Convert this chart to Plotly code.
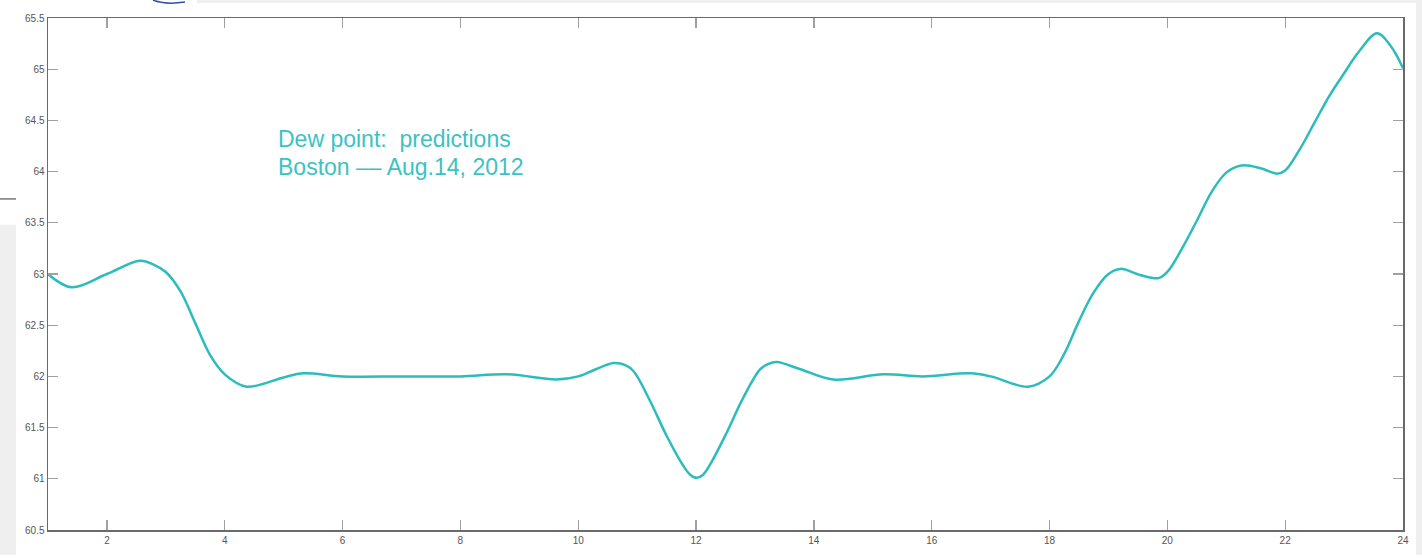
import plotly.graph_objects as go

# Values (hour of day, dew point °F)
hours = [1, 1.4, 2, 2.56, 2.8, 3, 3.25, 3.5, 3.75, 4, 4.37, 5, 5.33, 6, 7, 8, 8.8,
         9.63, 10, 10.3, 10.6, 10.8, 10.94, 11.22, 11.5, 11.78, 11.9, 12.01, 12.12,
         12.24, 12.52, 12.8, 13.09, 13.22, 13.37, 13.77, 14.33, 15.18, 15.85, 16.65,
         17, 17.64, 18, 18.25, 18.5, 18.75, 19, 19.2, 19.54, 19.85, 20, 20.25,
         20.5, 20.75, 21, 21.26, 21.6, 21.86, 22, 22.25, 22.5, 22.75, 23, 23.25,
         23.56, 23.8, 24]
dew_point = [63.00, 62.87, 63.00, 63.13, 63.09, 63.02, 62.83, 62.52, 62.21, 62.02, 61.90,
             61.99, 62.03, 62.00, 62.00, 62.00, 62.02,
             61.97, 62.00, 62.07, 62.13, 62.11, 62.05, 61.76, 61.42, 61.13, 61.04, 61.01, 61.04,
             61.14, 61.45, 61.79, 62.07, 62.12, 62.14, 62.07, 61.97, 62.02, 62.00, 62.03,
             62.00, 61.90, 62.00, 62.22, 62.54, 62.82, 63.00, 63.05, 62.99, 62.96, 63.02, 63.25,
             63.52, 63.80, 63.99, 64.06, 64.03, 63.98, 64.01, 64.22, 64.48, 64.74, 64.96, 65.17,
             65.35, 65.22, 65.01]

x_ticks = [2, 4, 6, 8, 10, 12, 14, 16, 18, 20, 22, 24]
y_ticks = [60.5, 61, 61.5, 62, 62.5, 63, 63.5, 64, 64.5, 65, 65.5]
label_lines = ["Dew point:  predictions", "Boston \u2013\u2013 Aug.14, 2012"]

W, H = 1422, 558
L, R, T, B = 48, 19, 18, 25
pw, ph = W - L - R, H - T - B


def px_x(p):
    return (p - L) / pw


def px_y(p):
    return (H - B - p) / ph


fig = go.Figure()
fig.add_trace(go.Scatter(
    x=hours, y=dew_point, mode="lines",
    line=dict(color="#2cbcbc", width=2.5, shape="spline", smoothing=1.0),
    hoverinfo="skip", showlegend=False,
))

axis_common = dict(
    showgrid=False, zeroline=False, showline=True, linecolor="#6a6a6a",
    linewidth=1.5, mirror="ticks", ticks="inside", ticklen=10,
    tickcolor="#a0a0a0", tickwidth=1.3,
    tickfont=dict(family="Liberation Sans, Arial, sans-serif", size=10, color="#555555"),
)

text_font = dict(family="Liberation Sans, Arial, sans-serif", size=23, color="#3cc2c2")
baselines = [148, 176]
annotations = []
for line_text, base in zip(label_lines, baselines):
    annotations.append(dict(
        xref="paper", yref="paper", x=px_x(277), y=px_y(base + 6),
        xanchor="left", yanchor="bottom", align="left", showarrow=False,
        text=line_text, font=text_font, borderpad=0,
    ))

fig.update_layout(
    width=W, height=H,
    margin=dict(l=L, r=R, t=T, b=B, pad=0),
    paper_bgcolor="white", plot_bgcolor="white",
    xaxis=dict(range=[1, 24], tickvals=x_ticks, ticktext=[str(v) for v in x_ticks],
               **axis_common),
    yaxis=dict(range=[60.5, 65.5], tickvals=y_ticks,
               ticktext=[("%g" % v) for v in y_ticks], **axis_common),
    annotations=annotations,
    shapes=[
        # surrounding gray page background fragments
        dict(type="rect", xref="paper", yref="paper", layer="below",
             x0=px_x(0), x1=px_x(16), y0=px_y(H), y1=px_y(226),
             fillcolor="#efefef", line=dict(width=0)),
        dict(type="rect", xref="paper", yref="paper", layer="below",
             x0=px_x(197), x1=px_x(W), y0=px_y(3), y1=px_y(0),
             fillcolor="#efefef", line=dict(width=0)),
        dict(type="rect", xref="paper", yref="paper", layer="below",
             x0=px_x(1416), x1=px_x(W), y0=px_y(H), y1=px_y(0),
             fillcolor="#efefef", line=dict(width=0)),
        dict(type="line", xref="paper", yref="paper",
             x0=px_x(0), x1=px_x(16), y0=px_y(200), y1=px_y(200),
             line=dict(color="#333333", width=1)),
        dict(type="path", xref="paper", yref="paper",
             path="M %f %f Q %f %f %f %f" % (px_x(153), px_y(0), px_x(165), px_y(5),
                                             px_x(185), px_y(2)),
             line=dict(color="#3050b0", width=1.5)),
    ],
)

fig.write_html(
    "out.html",
    config={"displayModeBar": False, "staticPlot": True},
    post_script="document.body.style.margin='0';document.body.style.overflow='hidden';",
)
